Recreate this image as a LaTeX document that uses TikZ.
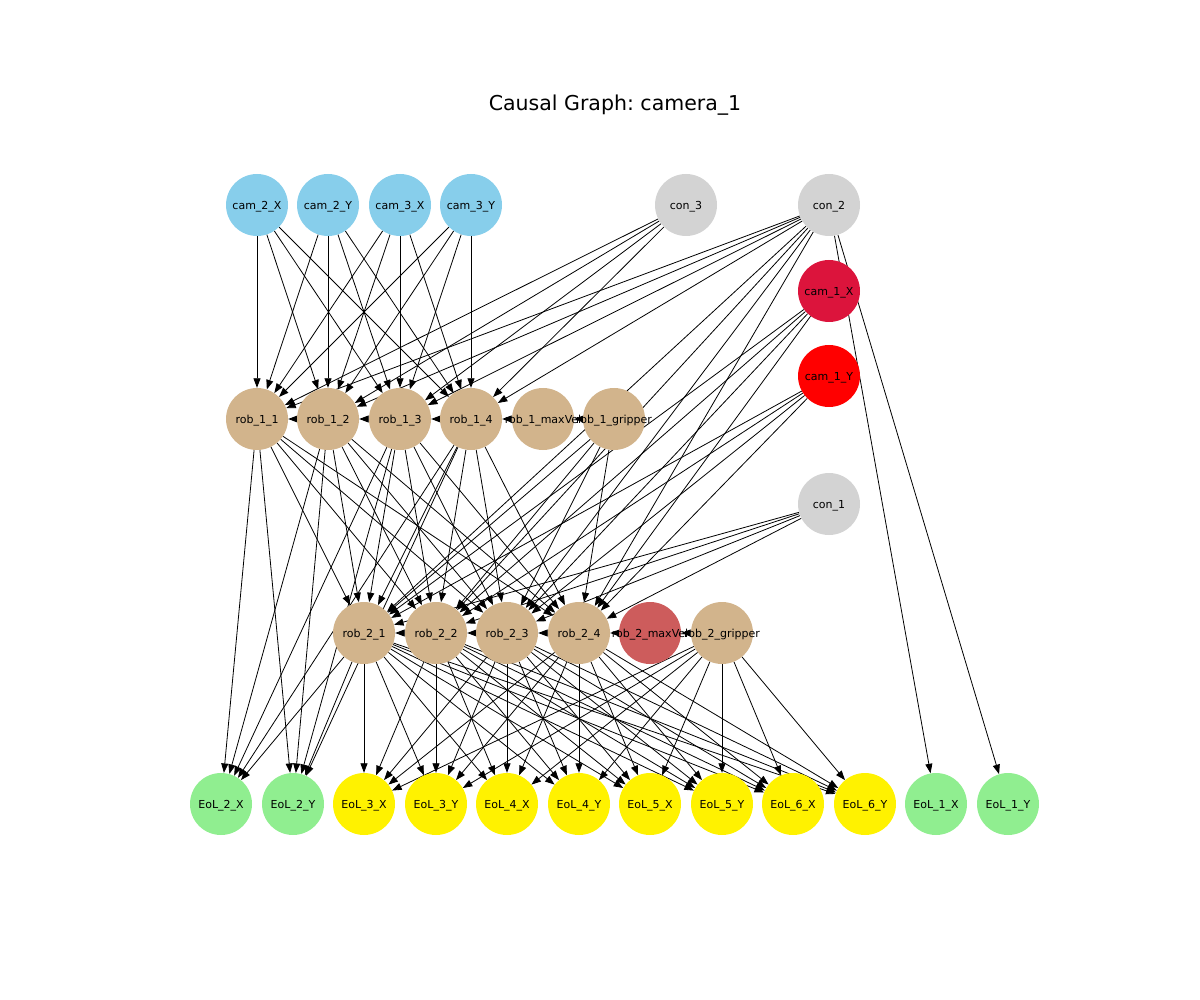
\documentclass[tikz,border=0pt]{standalone}
\usepackage{fontspec}
\setmainfont{DejaVu Sans}
\usetikzlibrary{arrows.meta,backgrounds}
\definecolor{skyblue}{RGB}{135,206,235}
\definecolor{lgray}{RGB}{211,211,211}
\definecolor{crimson}{RGB}{220,20,60}
\definecolor{tanc}{RGB}{210,180,140}
\definecolor{indianred}{RGB}{205,92,92}
\definecolor{lgreen}{RGB}{144,238,144}
\tikzset{
	var/.style={circle, minimum size=62pt, inner sep=0pt, draw=none},
	lab/.style={font=\fontsize{11}{11}\selectfont, yshift=-1.5pt},
	link/.style={->, line width=0.8pt, black}
}
\begin{document}
\begin{tikzpicture}[x=1pt, y=-1pt, >={Triangle[length=9.5pt,width=7pt]}]
		\useasboundingbox (0,0) rectangle (1200,1000);
		\node[font=\fontsize{20.5}{20.5}\selectfont] (title) at (615,105) {Causal Graph:\ camera\_1};
		% top row
		\node[var, fill=skyblue, label={[lab]center:cam\_2\_X}] (cam2X) at (257,205) {};
		\node[var, fill=skyblue, label={[lab]center:cam\_2\_Y}] (cam2Y) at (328,205) {};
		\node[var, fill=skyblue, label={[lab]center:cam\_3\_X}] (cam3X) at (400,205) {};
		\node[var, fill=skyblue, label={[lab]center:cam\_3\_Y}] (cam3Y) at (471,205) {};
		\node[var, fill=lgray, label={[lab]center:con\_3}] (con3) at (686,205) {};
		\node[var, fill=lgray, label={[lab]center:con\_2}] (con2) at (829,205) {};
		\node[var, fill=crimson, label={[lab]center:cam\_1\_X}] (cam1X) at (829,291) {};
		\node[var, fill=red, label={[lab]center:cam\_1\_Y}] (cam1Y) at (829,376) {};
		\node[var, fill=lgray, label={[lab]center:con\_1}] (con1) at (829,504) {};
		% robot 1
		\node[var, fill=tanc, label={[lab]center:rob\_1\_1}] (rob11) at (257,419) {};
		\node[var, fill=tanc, label={[lab]center:rob\_1\_2}] (rob12) at (328,419) {};
		\node[var, fill=tanc, label={[lab]center:rob\_1\_3}] (rob13) at (400,419) {};
		\node[var, fill=tanc, label={[lab]center:rob\_1\_4}] (rob14) at (471,419) {};
		\node[var, fill=tanc, label={[lab]center:rob\_1\_maxVel}] (rob1mv) at (543,419) {};
		\node[var, fill=tanc, label={[lab]center:rob\_1\_gripper}] (rob1gr) at (614,419) {};
		% robot 2
		\node[var, fill=tanc, label={[lab]center:rob\_2\_1}] (rob21) at (364,633) {};
		\node[var, fill=tanc, label={[lab]center:rob\_2\_2}] (rob22) at (436,633) {};
		\node[var, fill=tanc, label={[lab]center:rob\_2\_3}] (rob23) at (507,633) {};
		\node[var, fill=tanc, label={[lab]center:rob\_2\_4}] (rob24) at (579,633) {};
		\node[var, fill=indianred, label={[lab]center:rob\_2\_maxVel}] (rob2mv) at (650,633) {};
		\node[var, fill=tanc, label={[lab]center:rob\_2\_gripper}] (rob2gr) at (722,633) {};
		% end of line
		\node[var, fill=lgreen, label={[lab]center:EoL\_2\_X}] (eol2X) at (221,804) {};
		\node[var, fill=lgreen, label={[lab]center:EoL\_2\_Y}] (eol2Y) at (293,804) {};
		\node[var, fill=yellow, label={[lab]center:EoL\_3\_X}] (eol3X) at (364,804) {};
		\node[var, fill=yellow, label={[lab]center:EoL\_3\_Y}] (eol3Y) at (436,804) {};
		\node[var, fill=yellow, label={[lab]center:EoL\_4\_X}] (eol4X) at (507,804) {};
		\node[var, fill=yellow, label={[lab]center:EoL\_4\_Y}] (eol4Y) at (579,804) {};
		\node[var, fill=yellow, label={[lab]center:EoL\_5\_X}] (eol5X) at (650,804) {};
		\node[var, fill=yellow, label={[lab]center:EoL\_5\_Y}] (eol5Y) at (722,804) {};
		\node[var, fill=yellow, label={[lab]center:EoL\_6\_X}] (eol6X) at (793,804) {};
		\node[var, fill=yellow, label={[lab]center:EoL\_6\_Y}] (eol6Y) at (865,804) {};
		\node[var, fill=lgreen, label={[lab]center:EoL\_1\_X}] (eol1X) at (936,804) {};
		\node[var, fill=lgreen, label={[lab]center:EoL\_1\_Y}] (eol1Y) at (1008,804) {};
		% edges behind the nodes
		\begin{scope}[on background layer]
		\draw[link] (cam2X) edge (rob11) edge (rob12) edge (rob13) edge (rob14);
		\draw[link] (cam2Y) edge (rob11) edge (rob12) edge (rob13) edge (rob14);
		\draw[link] (cam3X) edge (rob11) edge (rob12) edge (rob13) edge (rob14);
		\draw[link] (cam3Y) edge (rob11) edge (rob12) edge (rob13) edge (rob14);
		\draw[link] (con3) edge (rob11) edge (rob12) edge (rob13) edge (rob14);
		\draw[link] (con2) edge (rob11) edge (rob12) edge (rob13) edge (rob14)
		edge (rob21) edge (rob22) edge (rob23) edge (rob24) edge (eol1X) edge (eol1Y);
		\draw[link] (rob12) edge (rob11) (rob13) edge (rob12) (rob14) edge (rob13)
		(rob1mv) edge (rob14) (rob1gr) edge (rob1mv);
		\draw[link] (rob11) edge (rob21) edge (rob22) edge (rob23) edge (rob24) edge (eol2X) edge (eol2Y);
		\draw[link] (rob12) edge (rob21) edge (rob22) edge (rob23) edge (rob24) edge (eol2X) edge (eol2Y);
		\draw[link] (rob13) edge (rob21) edge (rob22) edge (rob23) edge (rob24) edge (eol2X) edge (eol2Y);
		\draw[link] (rob14) edge (rob21) edge (rob22) edge (rob23) edge (rob24) edge (eol2X) edge (eol2Y);
		\draw[link] (rob1gr) edge (rob21) edge (rob22) edge (rob23) edge (rob24);
		\draw[link] (cam1X) edge (rob21) edge (rob22) edge (rob23) edge (rob24);
		\draw[link] (cam1Y) edge (rob21) edge (rob22) edge (rob23) edge (rob24);
		\draw[link] (con1) edge (rob21) edge (rob22) edge (rob23) edge (rob24);
		\draw[link] (rob22) edge (rob21) (rob23) edge (rob22) (rob24) edge (rob23)
		(rob2mv) edge (rob24) (rob2gr) edge (rob2mv);
		\draw[link] (rob21) edge (eol2X) edge (eol2Y) edge (eol3X) edge (eol3Y) edge (eol4X) edge (eol4Y)
		edge (eol5X) edge (eol5Y) edge (eol6X) edge (eol6Y);
		\draw[link] (rob22) edge (eol3X) edge (eol3Y) edge (eol4X) edge (eol4Y)
		edge (eol5X) edge (eol5Y) edge (eol6X) edge (eol6Y);
		\draw[link] (rob23) edge (eol3X) edge (eol3Y) edge (eol4X) edge (eol4Y)
		edge (eol5X) edge (eol5Y) edge (eol6X) edge (eol6Y);
		\draw[link] (rob24) edge (eol3X) edge (eol3Y) edge (eol4X) edge (eol4Y)
		edge (eol5X) edge (eol5Y) edge (eol6X) edge (eol6Y);
		\draw[link] (rob2gr) edge (eol3X) edge (eol3Y) edge (eol4X) edge (eol4Y)
		edge (eol5X) edge (eol5Y) edge (eol6X) edge (eol6Y);
		\end{scope}
		\end{tikzpicture}
\end{document}
